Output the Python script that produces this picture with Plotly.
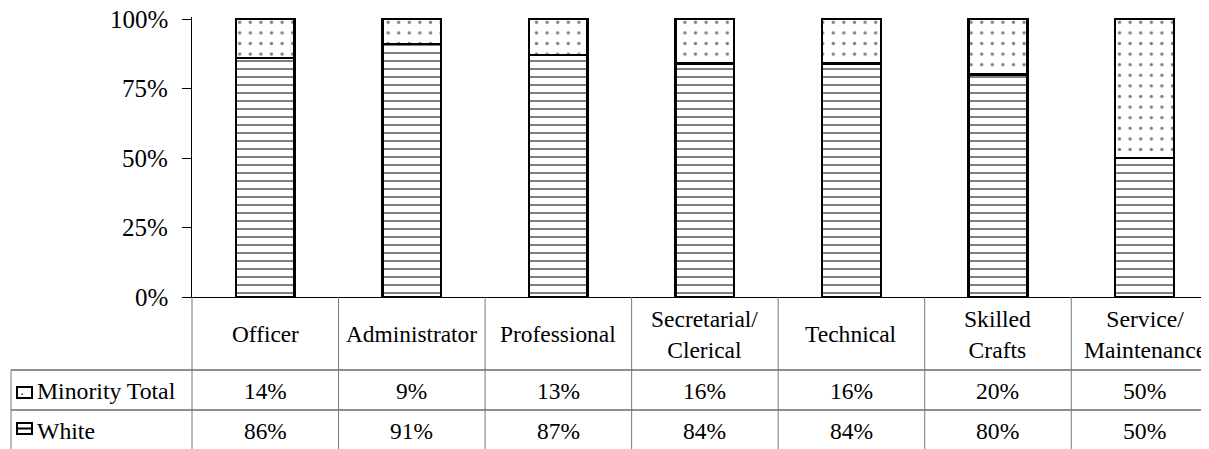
import plotly.graph_objects as go

categories = ["Officer", "Administrator", "Professional", "Secretarial/<br>Clerical",
              "Technical", "Skilled<br>Crafts", "Service/<br>Maintenance"]
white = [86, 91, 87, 84, 84, 80, 50]
minority = [14, 9, 13, 16, 16, 20, 50]
series_names = ["Minority Total", "White"]
y_ticks = [0, 0.25, 0.5, 0.75, 1.0]
y_tick_text = ["0%", "25%", "50%", "75%", "100%"]

OFF = 8  # default body margin of the page
W, H = 1209 - OFF, 449 - OFF
ML, MR = 192 - OFF, 0
MT = 17 - OFF
MB = H - (297 - OFF)
PH = H - MT - MB  # 280
X0, X1 = -0.5, 6.44

def py(p):  # page pixel y -> paper y
    return (297 - p) / PH

def px(p):  # page pixel x -> paper x
    return (p - 192) / (W - ML - MR)

def cx(i):  # category index -> paper x
    return (i - X0) / (X1 - X0)

xs = list(range(len(categories)))

fig = go.Figure()
fig.add_trace(go.Bar(
    x=xs, y=[v / 100 for v in white], name="White", width=0.4,
    marker=dict(color="white", line=dict(color="black", width=2.5),
                pattern=dict(shape="-", size=8, solidity=0.25, fgcolor="black", bgcolor="white")),
))
fig.add_trace(go.Bar(
    x=xs, y=[v / 100 for v in minority], name="Minority Total", width=0.4,
    marker=dict(color="white", line=dict(color="black", width=2.5),
                pattern=dict(shape=".", size=10.6, solidity=0.08, fgcolor="black", bgcolor="white")),
))

shapes = []
for yy in [370, 410]:
    shapes.append(dict(type="line", xref="paper", yref="paper", x0=px(11), x1=1.02,
                       y0=py(yy), y1=py(yy), line=dict(color="#222", width=1)))
shapes.append(dict(type="line", xref="paper", yref="paper", x0=px(11), x1=px(11),
                   y0=py(370), y1=py(460), line=dict(color="#777", width=1)))
for k in range(len(categories) + 1):
    xp = cx(k - 0.5)
    shapes.append(dict(type="line", xref="paper", yref="paper", x0=xp, x1=xp,
                       y0=py(297), y1=py(460), line=dict(color="#777", width=1)))
shapes.append(dict(type="rect", xref="paper", yref="paper", x0=px(17), x1=px(32),
                   y0=py(398), y1=py(387), line=dict(color="black", width=2), fillcolor="white"))
shapes.append(dict(type="circle", xref="paper", yref="paper", x0=px(21.3), x1=px(23.0),
                   y0=py(395), y1=py(393.3), line=dict(color="#333", width=0), fillcolor="#333"))
shapes.append(dict(type="rect", xref="paper", yref="paper", x0=px(17), x1=px(32),
                   y0=py(434), y1=py(423), line=dict(color="black", width=2), fillcolor="white"))
shapes.append(dict(type="line", xref="paper", yref="paper", x0=px(17), x1=px(32),
                   y0=py(428.5), y1=py(428.5), line=dict(color="black", width=2)))

FAMS = ["Times", "'Liberation Serif', serif", "Tinos", "serif"]
_count = [0]

def tfont():
    j = _count[0]
    _count[0] += 1
    return dict(family=FAMS[j % len(FAMS)], size=round(23.3 + 0.02 * j, 2), color="black")

f_tick = dict(family="'Liberation Serif', serif", size=25, color="black")

annotations = []
for i, c in enumerate(categories):
    annotations.append(dict(x=cx(i), xref="paper", y=py(334), yref="paper", text=c, showarrow=False,
                            xanchor="center", yanchor="middle", font=tfont()))
    annotations.append(dict(x=cx(i), xref="paper", y=py(391), yref="paper", text=f"{minority[i]}%",
                            showarrow=False, xanchor="center", yanchor="middle", font=tfont()))
    annotations.append(dict(x=cx(i), xref="paper", y=py(431), yref="paper", text=f"{white[i]}%",
                            showarrow=False, xanchor="center", yanchor="middle", font=tfont()))
for name, yy in zip(series_names, [391, 431]):
    annotations.append(dict(x=px(35), xref="paper", y=py(yy), yref="paper", text=name,
                            showarrow=False, xanchor="left", yanchor="middle", font=tfont()))
for v, t in zip(y_ticks, y_tick_text):
    annotations.append(dict(x=px(170), xref="paper", y=v, yref="y", text=t, showarrow=False,
                            xanchor="right", yanchor="middle", font=f_tick))

fig.update_layout(
    width=W, height=H, margin=dict(l=ML, r=MR, t=MT, b=MB),
    barmode="stack", showlegend=False,
    plot_bgcolor="white", paper_bgcolor="white",
    xaxis=dict(range=[X0, X1], showticklabels=False, ticks="", showgrid=False, zeroline=False,
               showline=True, linecolor="black", linewidth=1),
    yaxis=dict(range=[0, PH / 278], tickvals=y_ticks, showticklabels=False, ticks="outside",
               ticklen=9, tickcolor="black", showgrid=False, zeroline=False, showline=True,
               linecolor="black", linewidth=1),
    shapes=shapes, annotations=annotations,
)
fig.write_html("out.html")
